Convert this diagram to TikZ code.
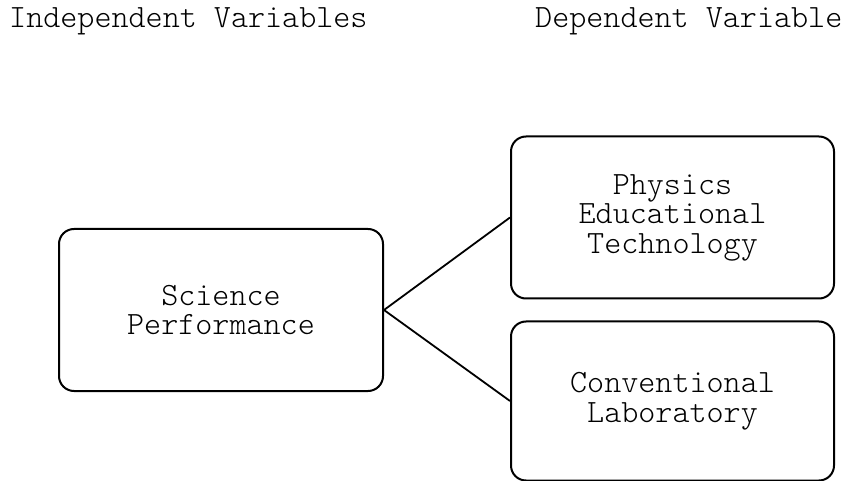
\documentclass[tikz,border=0pt]{standalone}
\usepackage{fontspec}
\setmonofont{Latin Modern Mono Light}
\begin{document}
\begin{tikzpicture}[x=1pt,y=-1pt,
  box/.style={draw=black,line width=2pt,rounded corners=15pt,align=center,inner sep=0pt},
  lbl/.style={inner sep=0pt,anchor=base west},
  conn/.style={draw=black,line width=1.8pt}]
\useasboundingbox (0,0) rectangle (852,481);
\ttfamily\fontsize{32.5}{29.5}\selectfont
\node[lbl] (hind) at (9,28) {Independent Variables};
\node[lbl] (hdep) at (535,28) {Dependent Variable};
\node[box,minimum width=324pt,minimum height=162pt] (sp) at (221,310) {Science\\Performance};
\node[box,minimum width=323pt,minimum height=162pt] (pet) at (672.5,217.5) {Physics\\Educational\\Technology};
\node[box,minimum width=323pt,minimum height=159pt] (cl) at (672.5,401) {Conventional\\Laboratory};
\draw[conn] (sp.east) -- (pet.west);
\draw[conn] (sp.east) -- (cl.west);
\end{tikzpicture}
\end{document}
